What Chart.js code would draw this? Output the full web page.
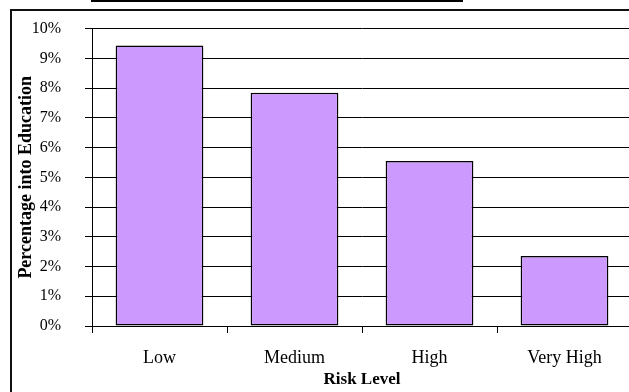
<!DOCTYPE html>
<html>
<head>
<meta charset="utf-8">
<script src="https://cdn.jsdelivr.net/npm/chart.js@4"></script>
<style>
  html, body { margin: 0; padding: 0; background: #fff; overflow: hidden; }
  #wrap { position: relative; width: 629px; height: 392px; overflow: hidden; }
  #topRule { position: absolute; left: 91px; top: 0px; width: 372px; height: 2px; background: #000; }
  #frame { position: absolute; left: 10px; top: 9px; width: 700px; height: 500px; border: 2px solid #111; }
  /* the y axis reserves label padding above the plot, so the canvas starts a little higher */
  #holder { position: absolute; left: 0; top: -5px; width: 632px; height: 397px; }
</style>
</head>
<body>
<div id="wrap">
  <div id="topRule"></div>
  <div id="frame"></div>
  <div id="holder"><canvas id="risk"></canvas></div>
</div>
<script>
const riskLevels = ['Low', 'Medium', 'High', 'Very High'];
const pctIntoEducation = [9.43, 7.84, 5.55, 2.35];
const yTicks = [0, 1, 2, 3, 4, 5, 6, 7, 8, 9, 10];

const serif = 'Liberation Serif, Times New Roman, serif';

new Chart(document.getElementById('risk'), {
    type: 'bar',
    data: {
        labels: riskLevels,
        datasets: [
            {
                label: 'Percentage into Education',
                data: pctIntoEducation,
                backgroundColor: '#CC99FF',
                borderColor: '#000',
                borderWidth: 1.5,
                borderSkipped: false,
                barPercentage: 0.65,
                categoryPercentage: 1,
            },
        ],
    },
    options: {
        responsive: true,
        maintainAspectRatio: false,
        animation: false,
        layout: { padding: 0 },
        plugins: {
            legend: { display: false },
            tooltip: { enabled: false },
        },
        scales: {
            x: {
                offset: true,
                border: { color: '#000', width: 1 },
                grid: {
                    offset: true,
                    drawOnChartArea: false,
                    drawTicks: true,
                    tickLength: 7,
                    color: '#000',
                },
                ticks: {
                    color: '#000',
                    padding: 14,
                    font: { family: serif, size: 18 },
                },
                title: {
                    display: true,
                    text: 'Risk Level',
                    color: '#000',
                    padding: { top: 0, bottom: 2 },
                    font: { family: serif, size: 17, weight: 'bold' },
                },
                afterFit: (scale) => { scale.height = 66; },
            },
            y: {
                min: 0,
                max: 10,
                border: { color: '#000', width: 1 },
                grid: {
                    color: '#000',
                    lineWidth: 1,
                    drawTicks: true,
                    tickLength: 7,
                },
                afterBuildTicks: (scale) => {
                    scale.ticks = yTicks.map(v => ({ value: v }));
                },
                ticks: {
                    color: '#000',
                    padding: 24,
                    font: { family: serif, size: 16 },
                    callback: (v) => v + '%',
                },
                title: {
                    display: true,
                    text: 'Percentage into Education',
                    color: '#000',
                    padding: { top: 16, bottom: 0 },
                    font: { family: serif, size: 18, weight: 'bold' },
                },
                afterFit: (scale) => { scale.width = 92; },
            },
        },
    },
});
</script>
</body>
</html>
